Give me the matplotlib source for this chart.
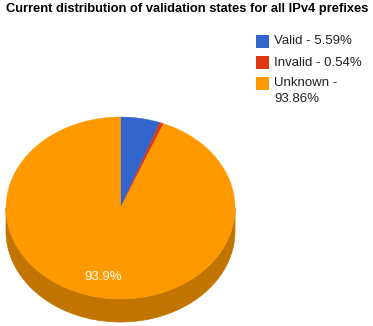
import numpy as np
import matplotlib
matplotlib.use("Agg")
import matplotlib.pyplot as plt
from matplotlib.patches import Polygon, Rectangle

title = "Current distribution of validation states for all IPv4 prefixes"
states = ["Valid", "Invalid", "Unknown"]
shares = [5.59, 0.54, 93.86]
legend_labels = ["Valid - 5.59%", "Invalid - 0.54%", "Unknown -\n93.86%"]
colors = ["#3366cc", "#dc3912", "#ff9900"]
side_colors = ["#274f9e", "#a92c0e", "#c27400"]

W, H = 373, 326
fig = plt.figure(figsize=(W / 100, H / 100), dpi=100)
ax = fig.add_axes([0, 0, 1, 1])
ax.set_xlim(0, W)
ax.set_ylim(H, 0)
ax.axis("off")

# pie geometry in pixel units
cx, cy, rx, ry, depth = 120.5, 208.0, 114.5, 91.0, 23.0


def pt(theta, dy=0.0):
    return cx + rx * np.sin(theta), cy - ry * np.cos(theta) + dy


fracs = np.array(shares) / np.sum(shares)
bounds = np.concatenate([[0], np.cumsum(fracs)]) * 2 * np.pi

# side wall (only the front half, pi/2 .. 3pi/2, is visible)
for i in range(len(shares)):
    a0 = max(bounds[i], np.pi / 2)
    a1 = min(bounds[i + 1], 3 * np.pi / 2)
    if a1 <= a0:
        continue
    t = np.linspace(a0, a1, 200)
    xs, ys = pt(t)
    xb, yb = pt(t[::-1], depth)
    poly = np.column_stack([np.concatenate([xs, xb]), np.concatenate([ys, yb])])
    ax.add_patch(Polygon(poly, closed=True, facecolor=side_colors[i],
                         edgecolor=side_colors[i], lw=0.5))

# top face
for i in range(len(shares)):
    t = np.linspace(bounds[i], bounds[i + 1], 400)
    xs, ys = pt(t)
    poly = np.column_stack([np.concatenate([[cx], xs]), np.concatenate([[cy], ys])])
    ax.add_patch(Polygon(poly, closed=True, facecolor=colors[i],
                         edgecolor=colors[i], lw=0.3))

# slice label for the large slice
for i, f in enumerate(fracs):
    if f < 0.2:
        continue
    mid = (bounds[i] + bounds[i + 1]) / 2
    lx, ly = cx + 0.77 * rx * np.sin(mid), cy - 0.77 * ry * np.cos(mid)
    ax.text(lx, ly, f"{shares[i]:.1f}%", color="white", fontsize=9.5,
            family="Liberation Sans", ha="center", va="center")

# title
ax.text(6, 9, title, fontsize=9.3, fontweight="bold", family="Liberation Sans",
        color="black", ha="left", va="center")

# legend
for i, lab in enumerate(legend_labels):
    y0 = 35 + 21 * i
    ax.add_patch(Rectangle((256, y0), 12.5, 12.5, facecolor=colors[i], edgecolor="none"))
    ax.text(274, y0 + 6.5, lab.split("\n")[0], fontsize=9.5, family="Liberation Sans",
            color="#222222", ha="left", va="center")
    if "\n" in lab:
        ax.text(274, y0 + 6.5 + 16, lab.split("\n")[1], fontsize=9.5,
                family="Liberation Sans", color="#222222", ha="left", va="center")

fig.savefig("out.png", dpi=100, facecolor="white")
